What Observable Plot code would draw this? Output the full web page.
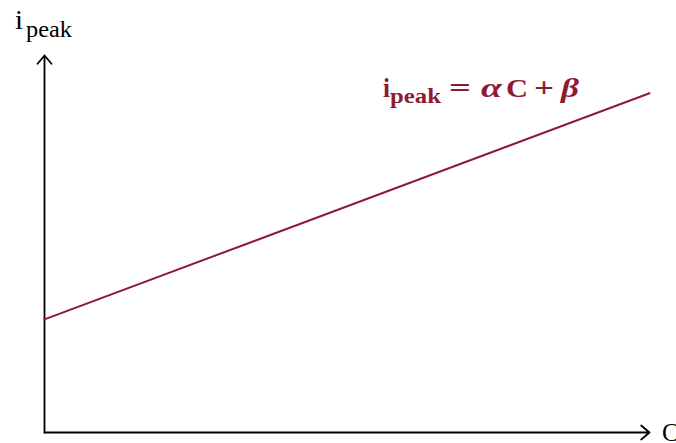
<!DOCTYPE html>
<html>
<head>
<meta charset="utf-8">
<script src="https://cdn.jsdelivr.net/npm/d3@7"></script>
<script src="https://cdn.jsdelivr.net/npm/@observablehq/plot@0.6"></script>
<style>
  html, body { margin: 0; padding: 0; background: #fff; }
  #chart svg { display: block; overflow: visible; }
</style>
</head>
<body>
<div id="chart"></div>
<script>
// Concentration (normalised) and the matching peak current of the linear relation
const cValues = [0, 1];
const iPeakValues = [0.30, 0.90];

// Axis extents (normalised units)
const xAxisEnd = [1];
const yAxisEnd = [1];

const lineColor = "#8E1B35";
const serif = "'Liberation Serif', 'DejaVu Serif', serif";

const relation = cValues.map((c, i) => ({ c, ipeak: iPeakValues[i] }));

const chart = Plot.plot({
  width: 676,
  height: 443,
  marginLeft: 44,
  marginRight: 27,
  marginTop: 55,
  marginBottom: 11,
  x: { domain: [0, 1], axis: null },
  y: { domain: [0, 1], axis: null },
  style: { background: "#fff", fontFamily: serif },
  marks: [
    // horizontal axis (C)
    Plot.arrow(xAxisEnd, {
      x1: 0, y1: 0, x2: d => d, y2: 0,
      stroke: "#000", strokeWidth: 1.8, headLength: 9, headAngle: 80
    }),
    // vertical axis (i_peak)
    Plot.arrow(yAxisEnd, {
      x1: 0, y1: 0, x2: 0, y2: d => d,
      stroke: "#000", strokeWidth: 1.8, headLength: 9, headAngle: 80
    }),
    // i_peak = alpha C + beta
    Plot.line(relation, { x: "c", y: "ipeak", stroke: lineColor, strokeWidth: 2 })
  ]
});

document.getElementById("chart").appendChild(chart);

// Labels with subscripts, placed through the plot's own scales
const sx = chart.scale("x"), sy = chart.scale("y");
const svg = d3.select(chart);

function piece(parent, x, y, text, size, width, extra = {}) {
  const t = parent.append("tspan")
    .attr("x", x).attr("y", y)
    .attr("font-size", size)
    .attr("textLength", width)
    .attr("lengthAdjust", "spacingAndGlyphs")
    .text(text);
  for (const [k, v] of Object.entries(extra)) t.attr(k, v);
  return t;
}

// y-axis title: i_peak
const x0 = sx.apply(0), yTop = sy.apply(1);
const yTitle = svg.append("text")
  .attr("text-anchor", "start")
  .attr("font-family", serif)
  .attr("fill", "#000");
piece(yTitle, x0 - 29, yTop - 26, "i", 27, 8);
piece(yTitle, x0 - 18, yTop - 18, "peak", 23, 46);

// x-axis title: C
svg.append("text")
  .attr("text-anchor", "start")
  .attr("x", sx.apply(1) + 13)
  .attr("y", sy.apply(0) + 9)
  .attr("font-family", serif)
  .attr("font-size", 25)
  .attr("fill", "#000")
  .text("C");

// equation label, anchored above the end of the line
const ex = sx.apply(1) - 266, ey = sy.apply(iPeakValues[1]) + 4;
const eq = svg.append("text")
  .attr("text-anchor", "start")
  .attr("font-family", serif)
  .attr("font-weight", "bold")
  .attr("fill", lineColor);
piece(eq, ex, ey, "i", 27, 7);
piece(eq, ex + 7, ey + 6, "peak", 21, 51);
piece(eq, ex + 66, ey, "=", 28, 22);
piece(eq, ex + 98, ey, "α", 27, 21, { "font-style": "italic" });
piece(eq, ex + 123, ey, "C", 26, 22);
piece(eq, ex + 151, ey, "+", 28, 20);
piece(eq, ex + 178, ey, "β", 27, 18, { "font-style": "italic" });
</script>
</body>
</html>
